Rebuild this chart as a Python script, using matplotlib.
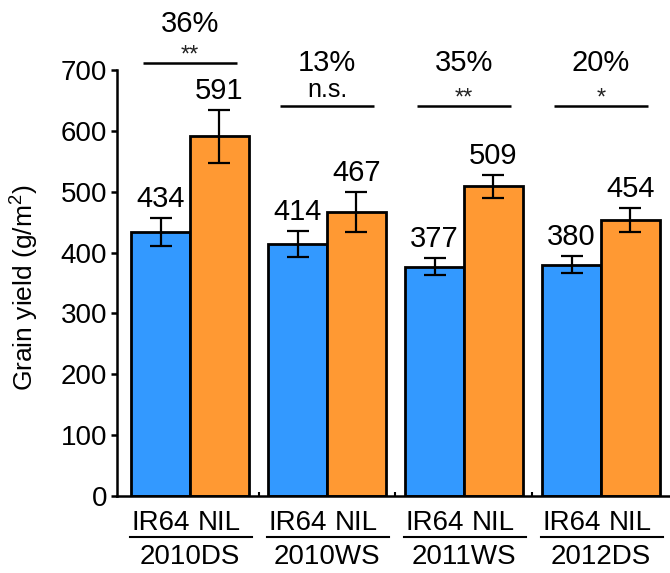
import matplotlib
matplotlib.use("Agg")
import matplotlib.pyplot as plt
import matplotlib.transforms as mtransforms
import numpy as np

plt.rcParams["font.family"] = "Liberation Sans"
plt.rcParams["mathtext.fontset"] = "custom"
plt.rcParams["mathtext.rm"] = "Liberation Sans"

# --- Data ---
seasons = ["2010DS", "2010WS", "2011WS", "2012DS"]
ir64 = [434, 414, 377, 380]
ir64_err = [23, 22, 14, 14]
nil = [591, 467, 509, 454]
nil_err = [43, 33, 19, 20]
pct = ["36%", "13%", "35%", "20%"]
sig = ["**", "n.s.", "**", "*"]

BLUE = "#3399ff"
ORANGE = "#ff9933"

fig = plt.figure(figsize=(6.7, 5.73), dpi=100)
ax = fig.add_axes([117 / 670, 1 - 496 / 573, (670 - 117) / 670, (496 - 70) / 573])

x = np.arange(len(seasons))
w = 0.43
ekw = dict(elinewidth=1.6, capthick=1.6, ecolor="black")
ax.bar(x - w / 2, ir64, w, color=BLUE, edgecolor="black", linewidth=2,
       yerr=ir64_err, capsize=8, error_kw=ekw, zorder=2)
ax.bar(x + w / 2, nil, w, color=ORANGE, edgecolor="black", linewidth=2,
       yerr=nil_err, capsize=8, error_kw=ekw, zorder=2)

# value labels
for i in range(len(seasons)):
    ax.text(x[i] - w / 2, ir64[i] + ir64_err[i] + 18, str(ir64[i]),
            ha="center", va="baseline", fontsize=21)
    ax.text(x[i] + w / 2, nil[i] + nil_err[i] + 18, str(nil[i]),
            ha="center", va="baseline", fontsize=21)

# significance brackets
for i in range(len(seasons)):
    ly = 712 if i == 0 else 641
    ax.plot([x[i] - 0.345, x[i] + 0.345], [ly, ly], color="black", lw=1.8,
            clip_on=False, solid_capstyle="butt")
    if sig[i] == "n.s.":
        ax.text(x[i], ly + 15, sig[i], ha="center", va="baseline", fontsize=18)
    else:
        ax.text(x[i], ly + 2, sig[i], ha="center", va="baseline", fontsize=17,
                color="#222222")
    ax.text(x[i], ly + (50 if i == 0 else 58), pct[i], ha="center",
            va="baseline", fontsize=21, clip_on=False)

ax.set_ylim(0, 700)
ax.set_xlim(-0.533, 3.504)
ax.set_yticks(range(0, 701, 100))
ax.tick_params(axis="y", direction="out", length=4, width=1.8, pad=3,
               labelsize=20)

# x tick labels
ax.set_xticks(np.concatenate([x - w / 2, x + w / 2]))
ax.set_xticklabels(["IR64"] * 4 + ["NIL"] * 4)
ax.tick_params(axis="x", which="major", length=0, pad=10, labelsize=20)
ax.set_xticks(x[:-1] + 0.5, minor=True)
ax.tick_params(axis="x", which="minor", direction="in", length=3, width=1.5)

trans = mtransforms.blended_transform_factory(ax.transData, ax.transAxes)
for i, s in enumerate(seasons):
    ax.plot([x[i] - 0.44, x[i] + 0.45], [-0.096, -0.096], color="black", lw=1.5,
            transform=trans, clip_on=False)
    ax.text(x[i], -0.143, s, ha="center", va="center", fontsize=20,
            transform=trans)

for side in ["top", "right"]:
    ax.spines[side].set_visible(False)
for side in ["left", "bottom"]:
    ax.spines[side].set_linewidth(1.8)

ax.set_ylabel(r"Grain yield (g/m$^\mathregular{2}$)", fontsize=19)
ax.yaxis.set_label_coords(-0.14, 0.49)

fig.savefig("out.png", dpi=100)
